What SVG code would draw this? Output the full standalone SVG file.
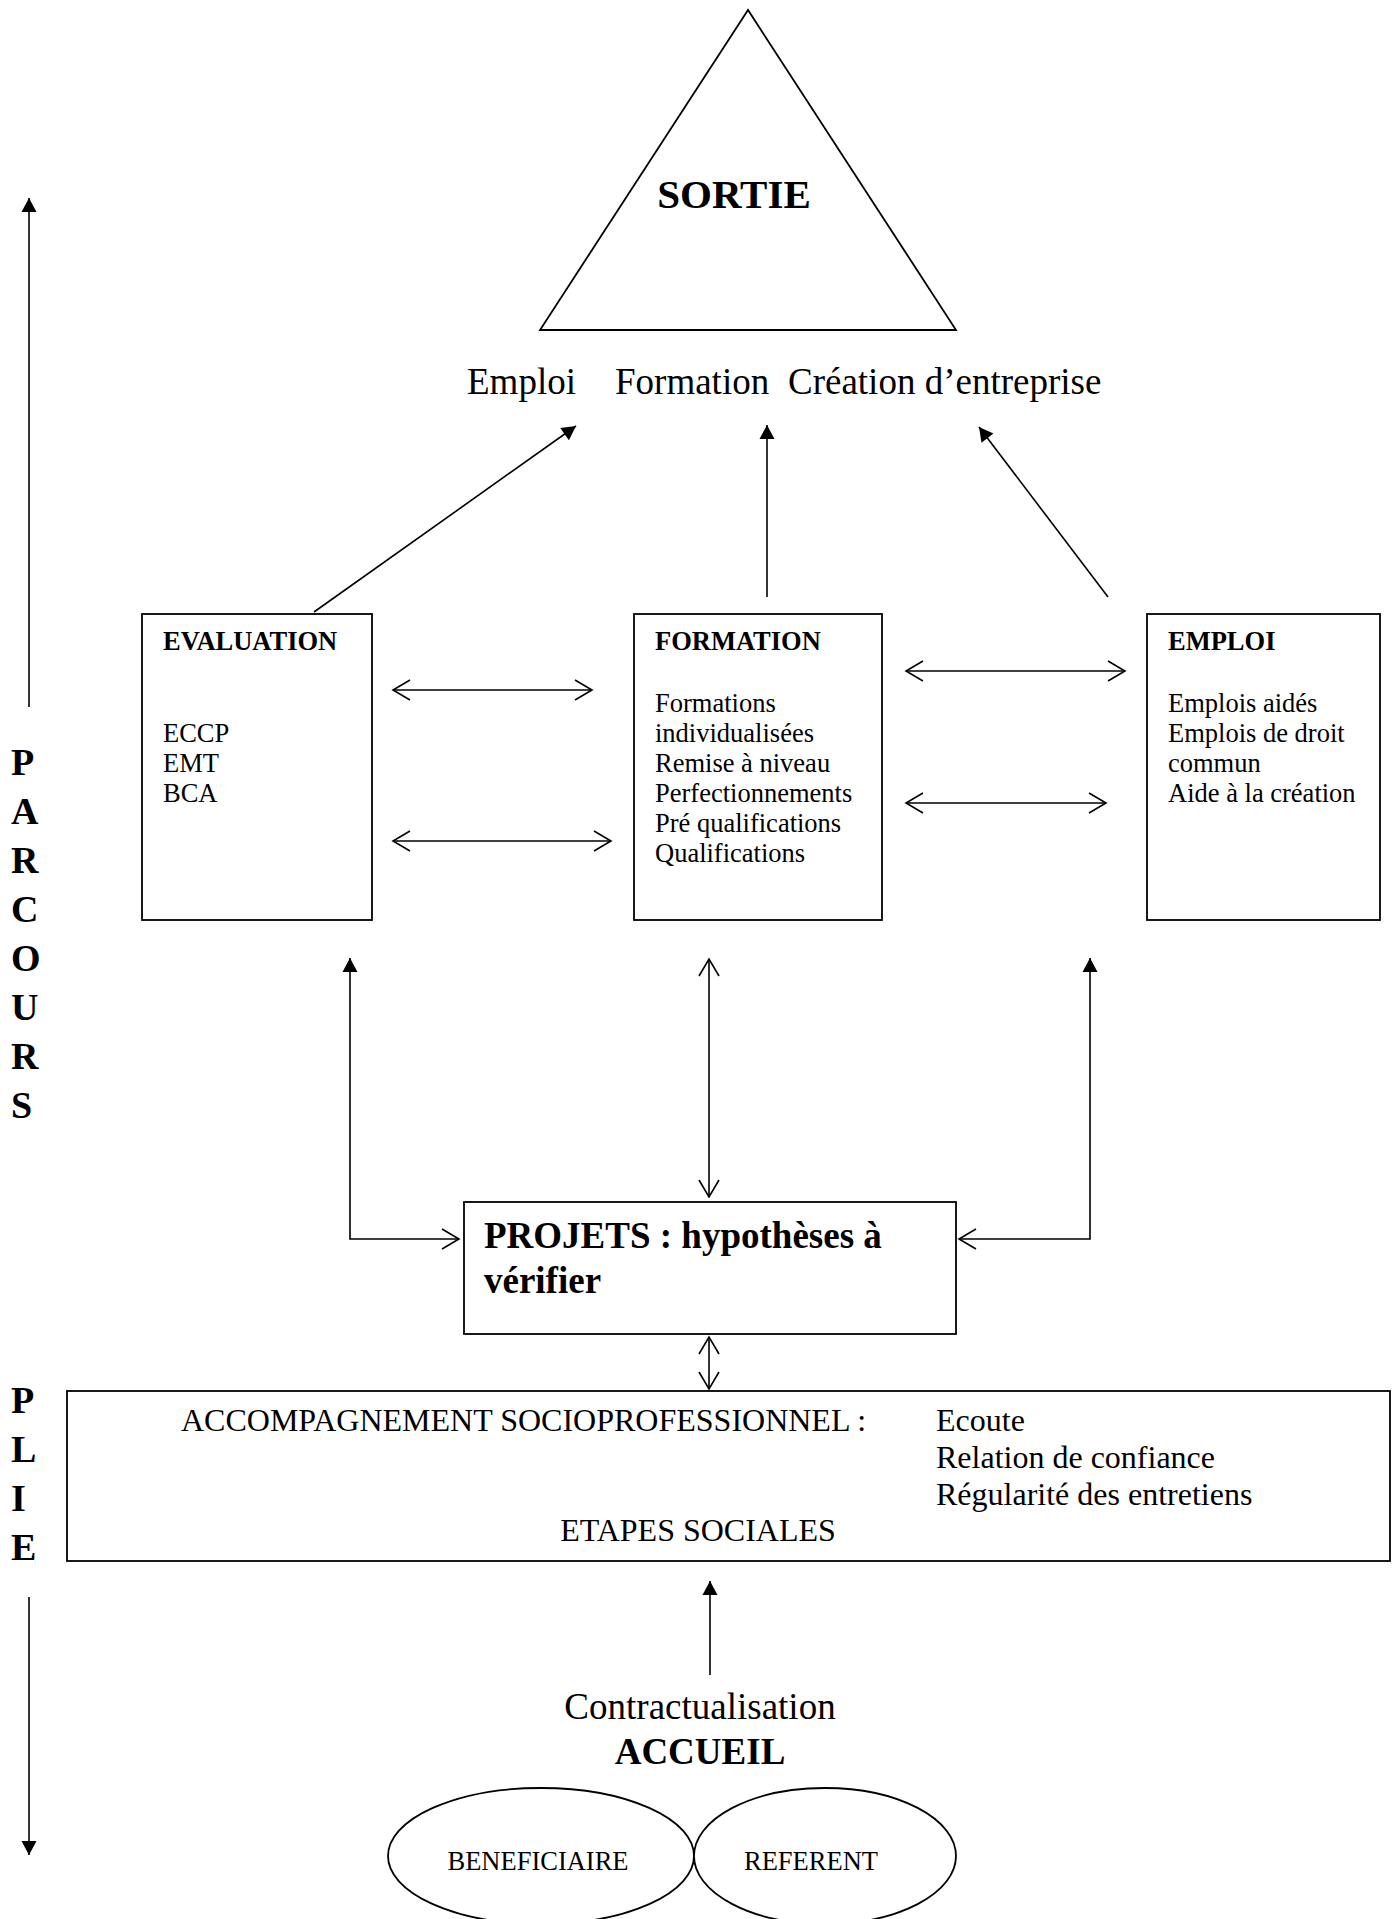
<svg xmlns="http://www.w3.org/2000/svg" width="1395" height="1919" viewBox="0 0 1395 1919">
<style>
text { font-family: "Liberation Serif", "Times New Roman", serif; fill: #000; }
.box { fill: #fff; stroke: #000; stroke-width: 1.8; }
.b { font-weight: bold; }
.s26 { font-size: 26.5px; }
.s32 { font-size: 32px; }
.s37 { font-size: 37px; }
.side { font-size: 38px; font-weight: bold; }
.conn { fill: none; stroke: #000; stroke-width: 1.6; }
.fe { marker-end: url(#fa); }
.ob { marker-start: url(#oa); marker-end: url(#oa); }
.os { marker-start: url(#oa); marker-end: url(#fa); }
</style>
<defs>
<marker id="fa" markerUnits="userSpaceOnUse" markerWidth="16" markerHeight="16" refX="14" refY="7.5" orient="auto" overflow="visible"><path d="M0,0 L14,7.5 L0,15 z" fill="#000"/></marker>
<marker id="oa" markerUnits="userSpaceOnUse" markerWidth="18" markerHeight="22" refX="17" refY="10" orient="auto-start-reverse" overflow="visible"><path d="M0,0 L17,10 L0,20" fill="none" stroke="#000" stroke-width="1.6"/></marker>
</defs>
<rect width="1395" height="1919" fill="#fff"/>

<g id="connectors">
<path class="conn fe" d="M314,612 L576,426"/>
<path class="conn fe" d="M767,597 L767,425"/>
<path class="conn fe" d="M1108,597 L979,427"/>
<path class="conn ob" d="M393,690 L592,690"/>
<path class="conn ob" d="M393,841 L611,841"/>
<path class="conn ob" d="M906,671 L1125,671"/>
<path class="conn ob" d="M906,803 L1106,803"/>
<path class="conn os" d="M459,1239 L350,1239 L350,958"/>
<path class="conn os" d="M959,1239 L1090,1239 L1090,958"/>
<path class="conn ob" d="M709,959 L709,1197"/>
<path class="conn ob" d="M709,1337 L709,1389"/>
<path class="conn fe" d="M710,1675 L710,1581"/>
</g>

<g id="side-parcours">
<path class="conn fe" d="M29,707 L29,198" stroke-width="2"/>
<g class="side">
<text x="11" y="775">P</text>
<text x="11" y="824">A</text>
<text x="11" y="873">R</text>
<text x="11" y="922">C</text>
<text x="11" y="971">O</text>
<text x="11" y="1020">U</text>
<text x="11" y="1069">R</text>
<text x="11" y="1118">S</text>
</g>
</g>

<g id="side-plie">
<g class="side">
<text x="11" y="1413">P</text>
<text x="11" y="1462">L</text>
<text x="11" y="1511">I</text>
<text x="11" y="1560">E</text>
</g>
<path class="conn fe" d="M29,1597 L29,1855" stroke-width="2"/>
</g>

<g id="sortie">
<polygon class="box" points="748,10 540,330 956,330"/>
<text class="b" x="734" y="208" font-size="41" text-anchor="middle">SORTIE</text>
</g>

<g id="sortie-labels" class="s37">
<text x="467" y="394">Emploi</text>
<text x="615" y="394">Formation</text>
<text x="788" y="394">Création d’entreprise</text>
</g>

<g id="evaluation">
<rect class="box" x="142" y="614" width="230" height="306"/>
<text class="b s26" x="163" y="650">EVALUATION</text>
<g class="s26">
<text x="163" y="742">ECCP</text>
<text x="163" y="772">EMT</text>
<text x="163" y="802">BCA</text>
</g>
</g>

<g id="formation">
<rect class="box" x="634" y="614" width="248" height="306"/>
<text class="b s26" x="655" y="650">FORMATION</text>
<g class="s26">
<text x="655" y="712">Formations</text>
<text x="655" y="742">individualisées</text>
<text x="655" y="772">Remise à niveau</text>
<text x="655" y="802">Perfectionnements</text>
<text x="655" y="832">Pré qualifications</text>
<text x="655" y="862">Qualifications</text>
</g>
</g>

<g id="emploi">
<rect class="box" x="1147" y="614" width="233" height="306"/>
<text class="b s26" x="1168" y="650">EMPLOI</text>
<g class="s26">
<text x="1168" y="712">Emplois aidés</text>
<text x="1168" y="742">Emplois de droit</text>
<text x="1168" y="772">commun</text>
<text x="1168" y="802">Aide à la création</text>
</g>
</g>

<g id="projets">
<rect class="box" x="464" y="1202" width="492" height="132"/>
<text class="b s37" x="484" y="1248">PROJETS : hypothèses à</text>
<text class="b s37" x="484" y="1293">vérifier</text>
</g>

<g id="accompagnement">
<rect class="box" x="67" y="1391" width="1323" height="170" stroke-width="2"/>
<g class="s32">
<text x="181" y="1431">ACCOMPAGNEMENT SOCIOPROFESSIONNEL :</text>
<text x="936" y="1431">Ecoute</text>
<text x="936" y="1468">Relation de confiance</text>
<text x="936" y="1505">Régularité des entretiens</text>
<text x="698" y="1541" text-anchor="middle">ETAPES SOCIALES</text>
</g>
</g>

<g id="accueil">
<text class="s37" x="700" y="1719" text-anchor="middle">Contractualisation</text>
<text class="b s37" x="700" y="1764" text-anchor="middle">ACCUEIL</text>
</g>

<g id="beneficiaire">
<ellipse class="box" cx="541" cy="1856" rx="153" ry="68" stroke-width="1.5"/>
<text class="s26" x="538" y="1870" text-anchor="middle">BENEFICIAIRE</text>
</g>

<g id="referent">
<ellipse class="box" cx="825" cy="1856" rx="131" ry="68" fill="none" stroke-width="1.5"/>
<text class="s26" x="811" y="1870" text-anchor="middle">REFERENT</text>
</g>
</svg>
